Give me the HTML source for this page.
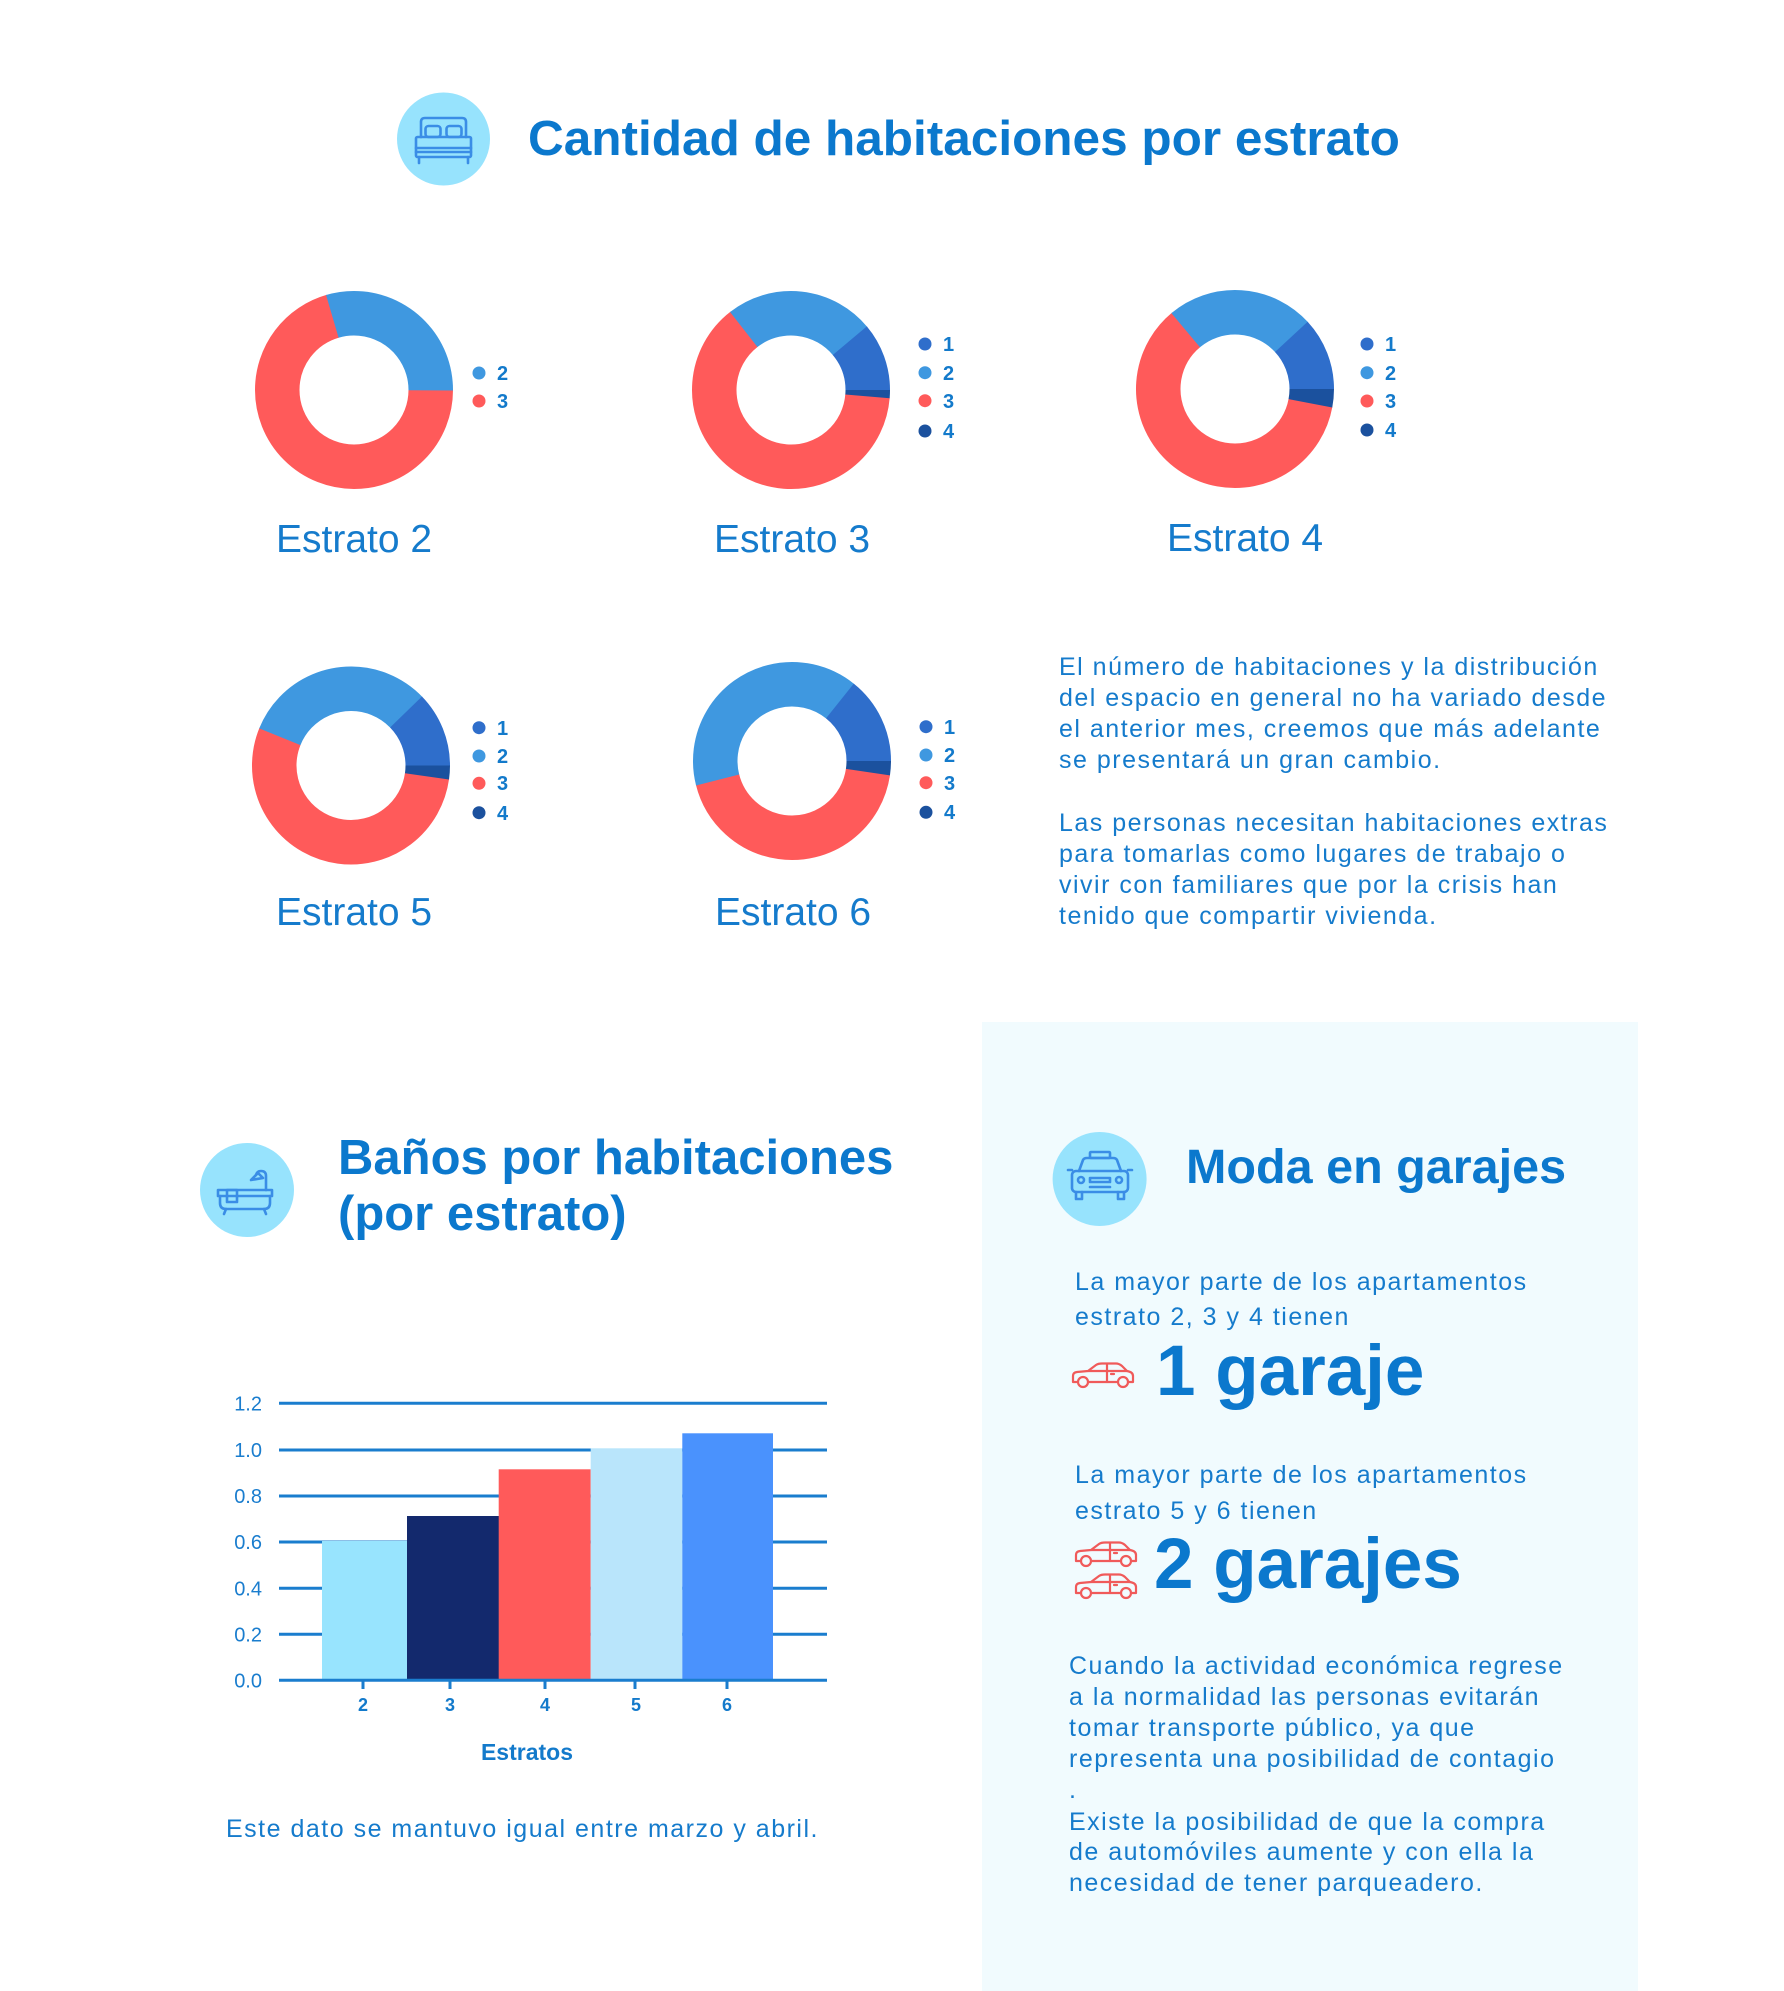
<!DOCTYPE html>
<html>
<head>
<meta charset="utf-8">
<style>
  html,body{margin:0;padding:0;background:#ffffff;}
  svg{display:block;}
  text{font-family:"Liberation Sans",Arial,sans-serif;}
  .t{fill:#0b78cd;font-weight:bold;}
  .b{fill:#157bcc;font-size:25px;letter-spacing:1.5px;}
  .lg{fill:#137acb;font-weight:bold;font-size:20px;}
  .es{fill:#157bcc;font-size:39px;}
  .ax{fill:#1a7dce;font-size:20px;}
  .xl{fill:#137acb;font-weight:bold;font-size:18px;}
</style>
</head>
<body>
<svg width="1784" height="1991" viewBox="0 0 1784 1991" xmlns="http://www.w3.org/2000/svg">
  <rect x="0" y="0" width="1784" height="1991" fill="#ffffff"/>
  <rect x="982" y="1022" width="656" height="969" fill="#f1fbfe"/>

  <!-- ===== Title 1 ===== -->
  <circle cx="443.5" cy="139" r="46.5" fill="#97e3fd"/>
  <g fill="none" stroke="#3a8de6" stroke-width="2.6" stroke-linejoin="round" stroke-linecap="round">
    <path d="M421,137 V122 Q421,118 425,118 H462 Q466,118 466,122 V137"/>
    <rect x="425.5" y="126" width="15" height="11" rx="3"/>
    <rect x="446.5" y="126" width="15" height="11" rx="3"/>
    <rect x="416" y="137" width="55" height="20" rx="1.5"/>
    <path d="M416,148 H471 M416,152 H471"/>
    <path d="M419,157 V163 M468,157 V163"/>
  </g>
  <text class="t" x="528" y="155" font-size="49.5">Cantidad de habitaciones por estrato</text>

  <!-- ===== Donut Estrato 2 ===== -->
  <g fill="none" stroke-width="44.5">
    <circle cx="354" cy="390" r="76.75" stroke="#ff5a5a" stroke-dasharray="340.2 1000" transform="rotate(0 354 390)"/>
    <circle cx="354" cy="390" r="76.75" stroke="#3f98e0" stroke-dasharray="142.9 1000" transform="rotate(253.6 354 390)"/>
  </g>
  <circle cx="479" cy="373" r="6.5" fill="#3f98e0"/>
  <circle cx="479" cy="401" r="6.5" fill="#ff5a5a"/>
  <text class="lg" x="497" y="380">2</text>
  <text class="lg" x="497" y="408">3</text>
  <text class="es" x="276" y="552">Estrato 2</text>

  <!-- ===== Donut Estrato 3 ===== -->
  <g fill="none" stroke-width="44.5">
    <circle cx="791" cy="390" r="76.75" stroke="#ff5a5a" stroke-dasharray="305.4 1000" transform="rotate(4.4 791 390)"/>
    <circle cx="791" cy="390" r="76.75" stroke="#3f98e0" stroke-dasharray="118.4 1000" transform="rotate(232 791 390)"/>
    <circle cx="791" cy="390" r="76.75" stroke="#2f6ecb" stroke-dasharray="54.0 1000" transform="rotate(-40 791 390)"/>
    <circle cx="791" cy="390" r="76.75" stroke="#1b519e" stroke-dasharray="6.4 1000" transform="rotate(0 791 390)"/>
  </g>
  <circle cx="925" cy="344" r="6.5" fill="#2f6ecb"/>
  <circle cx="925" cy="372.7" r="6.5" fill="#3f98e0"/>
  <circle cx="925" cy="400.7" r="6.5" fill="#ff5a5a"/>
  <circle cx="925" cy="431" r="6.5" fill="#1b519e"/>
  <text class="lg" x="943" y="351">1</text>
  <text class="lg" x="943" y="380">2</text>
  <text class="lg" x="943" y="408">3</text>
  <text class="lg" x="943" y="438">4</text>
  <text class="es" x="714" y="552">Estrato 3</text>

  <!-- ===== Donut Estrato 4 ===== -->
  <g fill="none" stroke-width="44.5">
    <circle cx="1235" cy="389" r="76.75" stroke="#ff5a5a" stroke-dasharray="294.7 1000" transform="rotate(10.4 1235 389)"/>
    <circle cx="1235" cy="389" r="76.75" stroke="#3f98e0" stroke-dasharray="117.3 1000" transform="rotate(230 1235 389)"/>
    <circle cx="1235" cy="389" r="76.75" stroke="#2f6ecb" stroke-dasharray="57.8 1000" transform="rotate(-42.8 1235 389)"/>
    <circle cx="1235" cy="389" r="76.75" stroke="#1b519e" stroke-dasharray="14.4 1000" transform="rotate(0 1235 389)"/>
  </g>
  <circle cx="1367" cy="344" r="6.5" fill="#2f6ecb"/>
  <circle cx="1367" cy="372.7" r="6.5" fill="#3f98e0"/>
  <circle cx="1367" cy="401" r="6.5" fill="#ff5a5a"/>
  <circle cx="1367" cy="430" r="6.5" fill="#1b519e"/>
  <text class="lg" x="1385" y="351">1</text>
  <text class="lg" x="1385" y="380">2</text>
  <text class="lg" x="1385" y="408">3</text>
  <text class="lg" x="1385" y="437">4</text>
  <text class="es" x="1167" y="551">Estrato 4</text>

  <!-- ===== Donut Estrato 5 ===== -->
  <g fill="none" stroke-width="44.5">
    <circle cx="351" cy="765.5" r="76.75" stroke="#ff5a5a" stroke-dasharray="260.6 1000" transform="rotate(7.8 351 765.5)"/>
    <circle cx="351" cy="765.5" r="76.75" stroke="#3f98e0" stroke-dasharray="152.9 1000" transform="rotate(202 351 765.5)"/>
    <circle cx="351" cy="765.5" r="76.75" stroke="#2f6ecb" stroke-dasharray="59.7 1000" transform="rotate(-44.2 351 765.5)"/>
    <circle cx="351" cy="765.5" r="76.75" stroke="#1b519e" stroke-dasharray="10.9 1000" transform="rotate(0 351 765.5)"/>
  </g>
  <circle cx="479" cy="727.7" r="6.5" fill="#2f6ecb"/>
  <circle cx="479" cy="756" r="6.5" fill="#3f98e0"/>
  <circle cx="479" cy="783.3" r="6.5" fill="#ff5a5a"/>
  <circle cx="479" cy="812.7" r="6.5" fill="#1b519e"/>
  <text class="lg" x="497" y="735">1</text>
  <text class="lg" x="497" y="763">2</text>
  <text class="lg" x="497" y="790">3</text>
  <text class="lg" x="497" y="820">4</text>
  <text class="es" x="276" y="925">Estrato 5</text>

  <!-- ===== Donut Estrato 6 ===== -->
  <g fill="none" stroke-width="44.5">
    <circle cx="792" cy="761" r="76.75" stroke="#ff5a5a" stroke-dasharray="211.7 1000" transform="rotate(8 792 761)"/>
    <circle cx="792" cy="761" r="76.75" stroke="#3f98e0" stroke-dasharray="191.9 1000" transform="rotate(165.7 792 761)"/>
    <circle cx="792" cy="761" r="76.75" stroke="#2f6ecb" stroke-dasharray="69.3 1000" transform="rotate(-51.4 792 761)"/>
    <circle cx="792" cy="761" r="76.75" stroke="#1b519e" stroke-dasharray="11.2 1000" transform="rotate(0 792 761)"/>
  </g>
  <circle cx="926" cy="726.7" r="6.5" fill="#2f6ecb"/>
  <circle cx="926" cy="755" r="6.5" fill="#3f98e0"/>
  <circle cx="926" cy="782.7" r="6.5" fill="#ff5a5a"/>
  <circle cx="926" cy="812.3" r="6.5" fill="#1b519e"/>
  <text class="lg" x="944" y="734">1</text>
  <text class="lg" x="944" y="762">2</text>
  <text class="lg" x="944" y="790">3</text>
  <text class="lg" x="944" y="819">4</text>
  <text class="es" x="715" y="925">Estrato 6</text>

  <!-- ===== Paragraph right of donuts ===== -->
  <text class="b" x="1059" y="675">El número de habitaciones y la distribución</text>
  <text class="b" x="1059" y="706">del espacio en general no ha variado desde</text>
  <text class="b" x="1059" y="737">el anterior mes, creemos que más adelante</text>
  <text class="b" x="1059" y="768">se presentará un gran cambio.</text>
  <text class="b" x="1059" y="831">Las personas necesitan habitaciones extras</text>
  <text class="b" x="1059" y="862">para tomarlas como lugares de trabajo o</text>
  <text class="b" x="1059" y="893">vivir con familiares que por la crisis han</text>
  <text class="b" x="1059" y="924">tenido que compartir vivienda.</text>

  <!-- ===== Baños section ===== -->
  <circle cx="247" cy="1190" r="47" fill="#97e3fd"/>
  <g fill="none" stroke="#3a8de6" stroke-width="2.6" stroke-linejoin="round" stroke-linecap="round">
    <path d="M266,1190 V1176 Q266,1171 261,1171 Q257,1171 256,1175"/>
    <path d="M251,1180 L258,1173 L263,1178 Z"/>
    <path d="M218,1190 H272 V1196 H218 Z"/>
    <path d="M220,1196 V1203 Q220,1209 226,1209 H264 Q270,1209 270,1203 V1196"/>
    <rect x="227" y="1190" width="10" height="12"/>
    <path d="M226,1209 L224,1214 M264,1209 L266,1214"/>
  </g>
  <text class="t" x="338" y="1174" font-size="49">Baños por habitaciones</text>
  <text class="t" x="338" y="1230" font-size="49">(por estrato)</text>

  <!-- Bar chart -->
  <g stroke="#1a7dce" stroke-width="3">
    <line x1="279" y1="1403.3" x2="827" y2="1403.3"/>
    <line x1="279" y1="1450" x2="827" y2="1450"/>
    <line x1="279" y1="1496" x2="827" y2="1496"/>
    <line x1="279" y1="1542" x2="827" y2="1542"/>
    <line x1="279" y1="1588.3" x2="827" y2="1588.3"/>
    <line x1="279" y1="1634.3" x2="827" y2="1634.3"/>
  </g>
  <rect x="322" y="1541" width="85.5" height="139" fill="#98e4fe"/>
  <rect x="407" y="1516" width="92" height="164" fill="#13296d"/>
  <rect x="498.7" y="1469.3" width="92" height="210.7" fill="#ff5a5a"/>
  <rect x="590.7" y="1448.3" width="91.6" height="231.7" fill="#b9e5fb"/>
  <rect x="682.3" y="1433.3" width="90.7" height="246.7" fill="#4a92fd"/>
  <g stroke="#1a7dce" stroke-width="3">
    <line x1="279" y1="1680.3" x2="827" y2="1680.3"/>
    <line x1="363" y1="1680" x2="363" y2="1689"/>
    <line x1="450" y1="1680" x2="450" y2="1689"/>
    <line x1="545" y1="1680" x2="545" y2="1689"/>
    <line x1="635" y1="1680" x2="635" y2="1689"/>
    <line x1="727" y1="1680" x2="727" y2="1689"/>
  </g>
  <g class="ax" text-anchor="end">
    <text x="262" y="1410.5">1.2</text>
    <text x="262" y="1457">1.0</text>
    <text x="262" y="1503">0.8</text>
    <text x="262" y="1549">0.6</text>
    <text x="262" y="1595.5">0.4</text>
    <text x="262" y="1641.5">0.2</text>
    <text x="262" y="1687.5">0.0</text>
  </g>
  <g class="xl" text-anchor="middle">
    <text x="363" y="1711">2</text>
    <text x="450" y="1711">3</text>
    <text x="545" y="1711">4</text>
    <text x="636" y="1711">5</text>
    <text x="727" y="1711">6</text>
  </g>
  <text class="xl" x="527" y="1760" text-anchor="middle" style="font-size:23px">Estratos</text>
  <text class="b" x="226" y="1837">Este dato se mantuvo igual entre marzo y abril.</text>

  <!-- ===== Moda en garajes ===== -->
  <circle cx="1099.6" cy="1179" r="47" fill="#97e3fd"/>
  <g fill="none" stroke="#3a8de6" stroke-width="2.6" stroke-linejoin="round" stroke-linecap="round">
    <rect x="1090" y="1152" width="20" height="6" rx="1"/>
    <path d="M1079,1171 L1083,1160 Q1084,1158 1087,1158 H1113 Q1116,1158 1117,1160 L1121,1171"/>
    <rect x="1072" y="1171" width="56" height="21" rx="4"/>
    <circle cx="1081" cy="1180" r="3"/>
    <circle cx="1119" cy="1180" r="3"/>
    <rect x="1090" y="1178" width="20" height="4"/>
    <path d="M1090,1187 H1110"/>
    <path d="M1076,1192 V1199 H1082 V1192 M1118,1192 V1199 H1124 V1192"/>
    <path d="M1072,1170 H1068 M1128,1170 H1132"/>
  </g>
  <text class="t" x="1186" y="1183" font-size="48.5">Moda en garajes</text>

  <text class="b" x="1075" y="1290">La mayor parte de los apartamentos</text>
  <text class="b" x="1075" y="1325">estrato 2, 3 y 4 tienen</text>

  <g id="car" fill="none" stroke="#f05a5a" stroke-width="2.2" stroke-linejoin="round" stroke-linecap="round" transform="translate(1071,1362)">
    <path d="M7,20 H2 V14 Q2,10.5 6,10 L17,9 L25,3 Q27,1.5 31,1.5 H45 Q48,1.5 51,4 L56,9 Q62,10 62,14 V20 H57"/>
    <path d="M47,20 H17"/>
    <circle cx="12" cy="20" r="5"/>
    <circle cx="52" cy="20" r="5"/>
    <path d="M17,9 H56 M36,2 V20 M40,12 H43"/>
  </g>
  <text class="t" x="1156" y="1395" font-size="71">1 garaje</text>

  <text class="b" x="1075" y="1483">La mayor parte de los apartamentos</text>
  <text class="b" x="1075" y="1519">estrato 5 y 6 tienen</text>

  <use href="#car" transform="translate(3,179)"/>
  <use href="#car" transform="translate(3,211)"/>
  <text class="t" x="1154" y="1588" font-size="71">2 garajes</text>

  <text class="b" x="1069" y="1674">Cuando la actividad económica regrese</text>
  <text class="b" x="1069" y="1705">a la normalidad las personas evitarán</text>
  <text class="b" x="1069" y="1736">tomar transporte público, ya que</text>
  <text class="b" x="1069" y="1767">representa una posibilidad de contagio</text>
  <text class="b" x="1069" y="1798">.</text>
  <text class="b" x="1069" y="1830">Existe la posibilidad de que la compra</text>
  <text class="b" x="1069" y="1860">de automóviles aumente y con ella la</text>
  <text class="b" x="1069" y="1891">necesidad de tener parqueadero.</text>
</svg>
</body>
</html>
